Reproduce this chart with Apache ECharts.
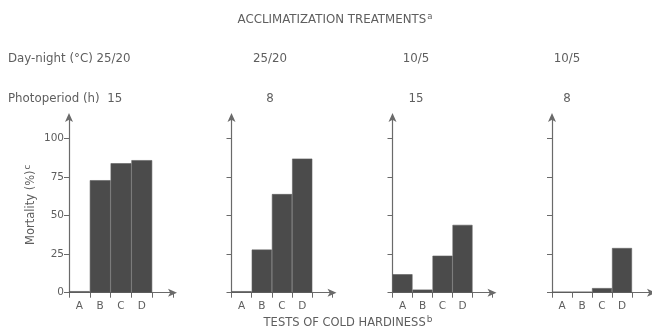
<!DOCTYPE html>
<html><head><meta charset="utf-8">
<script src="https://cdn.jsdelivr.net/npm/echarts@6/dist/echarts.min.js"></script>
<style>html,body{margin:0;padding:0;background:#fff}#c{width:652px;height:335px}</style>
</head><body><div id="c"></div>
<script>
const categories = ['A', 'B', 'C', 'D'];
const dayNight = ['25/20', '25/20', '10/5', '10/5'];
const photoperiod = ['15', '8', '15', '8'];
const yTicks = [0, 25, 50, 75, 100];
const mort1 = [1, 73, 84, 86];
const mort2 = [1, 28, 64, 87];
const mort3 = [12, 2, 24, 44];
const mort4 = [0.7, 0.7, 3, 29];
const panels = [mort1, mort2, mort3, mort4];

const FONT = 'DejaVu Sans';
const TXT = '#5e5e5e';
const AX = '#6a6a6a';
const BAR = '#4b4b4b';
const gridLefts = [69, 231.5, 392.5, 552];
const gridWidths = [104, 101, 100, 100];
const cats5 = categories.concat(['']);

const grids = [], xAxes = [], yAxes = [], series = [];
panels.forEach((vals, i) => {
  grids.push({left: gridLefts[i], width: gridWidths[i], top: 117, height: 175.7});
  xAxes.push({
    type: 'category', gridIndex: i, data: cats5, boundaryGap: true,
    axisLine: {lineStyle: {color: AX, width: 1.2}, symbol: ['none', 'arrow'], symbolSize: [6, 9], symbolOffset: [0, 4]},
    axisTick: {show: true, length: 5, lineStyle: {color: AX}},
    axisLabel: {color: TXT, fontFamily: FONT, fontSize: 10.5, margin: 8},
    splitLine: {show: false}
  });
  yAxes.push({
    type: 'value', gridIndex: i, min: 0, max: 114,
    axisLine: {show: true, lineStyle: {color: AX, width: 1.2}, symbol: ['none', 'arrow'], symbolSize: [6, 9], symbolOffset: [0, 4]},
    axisTick: {show: true, length: 5, customValues: yTicks, lineStyle: {color: AX}},
    axisLabel: {show: i === 0, customValues: yTicks, color: TXT, fontFamily: FONT, fontSize: 10.5, margin: 5},
    splitLine: {show: false},
    name: i === 0 ? '{n|Mortality (%)}{s|c}' : '',
    nameLocation: 'middle', nameGap: 29, nameRotate: 90,
    nameTextStyle: {rich: {
      n: {color: TXT, fontFamily: FONT, fontSize: 11.5},
      s: {color: TXT, fontFamily: FONT, fontSize: 8.5, verticalAlign: 'top', padding: [0, 0, 8, 1]}
    }}
  });
  series.push({
    type: 'bar', xAxisIndex: i, yAxisIndex: i, data: vals,
    barCategoryGap: '0%', barGap: '0%',
    itemStyle: {color: BAR, borderColor: '#5e5e5e', borderWidth: 0.6},
    silent: true, animation: false
  });
});

const rowStyle = {color: TXT, fontFamily: FONT, fontSize: 11.8, fontWeight: 'normal'};
const titles = [
  {text: '{t|ACCLIMATIZATION TREATMENTS}{s|a}', left: 335, top: 12, padding: 0, textAlign: 'center',
   textStyle: {fontWeight: 'normal', rich: {t: {color: TXT, fontFamily: FONT, fontSize: 11.8, fontWeight: 'normal'}, s: {color: TXT, fontFamily: FONT, fontSize: 8.5, fontWeight: 'normal', verticalAlign: 'top', padding: [0, 0, 6, 1]}}}},
  {text: 'Day-night (°C) ' + dayNight[0], left: 8, top: 53, padding: 0, textStyle: rowStyle},
  {text: 'Photoperiod (h)  ' + photoperiod[0], left: 8, top: 93, padding: 0, textStyle: rowStyle},
  {text: '{t|TESTS OF COLD HARDINESS}{s|b}', left: 348, top: 315, padding: 0, textAlign: 'center',
   textStyle: {fontWeight: 'normal', rich: {t: {color: TXT, fontFamily: FONT, fontSize: 11.5, fontWeight: 'normal'}, s: {color: TXT, fontFamily: FONT, fontSize: 9, fontWeight: 'normal', verticalAlign: 'top', padding: [0, 0, 7, 1]}}}}
];
const colX = [null, 270, 416, 567];
for (let i = 1; i < 4; i++) {
  titles.push({text: dayNight[i], left: colX[i], top: 53, padding: 0, textAlign: 'center', textStyle: rowStyle});
  titles.push({text: photoperiod[i], left: colX[i], top: 93, padding: 0, textAlign: 'center', textStyle: rowStyle});
}

const chart = echarts.init(document.getElementById('c'), null, {renderer: 'canvas'});
chart.setOption({
  backgroundColor: '#ffffff',
  animation: false,
  title: titles,
  grid: grids, xAxis: xAxes, yAxis: yAxes, series: series
});
</script></body></html>
